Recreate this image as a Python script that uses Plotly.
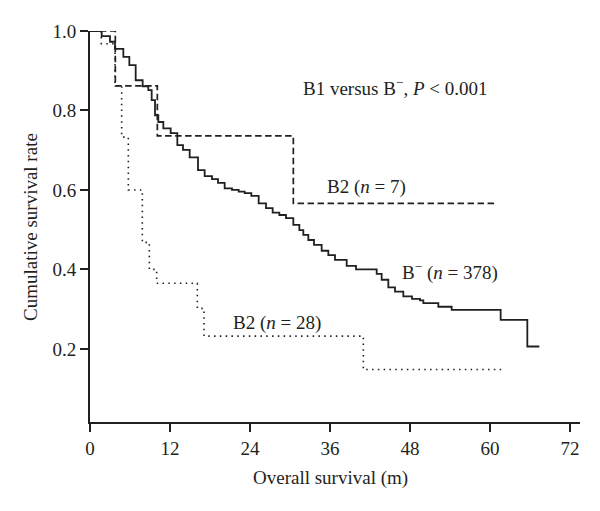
import plotly.graph_objects as go

# B- (n = 378): step times (months) and survival after each step
bneg_t = [0, 1.75, 3.0, 3.75, 5.0, 5.9, 6.85, 7.9, 8.75, 9.25, 9.75, 10.25, 11.0, 12.1,
          13.1, 13.95, 14.95, 16.2, 17.2, 18.3, 19.2, 20.2, 21.3, 22.3, 23.2, 24.2, 25.3,
          26.4, 27.4, 28.4, 29.4, 30.5, 31.4, 32.0, 32.75, 33.6, 34.75, 35.75, 36.75, 38.5,
          39.9, 43.0, 43.75, 44.75, 45.75, 47.0, 48.3, 49.5, 50.0, 52.25, 54.25, 61.6, 65.6, 67.4]
bneg_s = [1.0, 0.987, 0.973, 0.955, 0.935, 0.914, 0.876, 0.861, 0.851, 0.826, 0.788, 0.771,
          0.755, 0.743, 0.713, 0.701, 0.682, 0.650, 0.635, 0.627, 0.618, 0.604, 0.600, 0.596,
          0.592, 0.585, 0.566, 0.554, 0.543, 0.537, 0.529, 0.512, 0.499, 0.487, 0.474, 0.462,
          0.447, 0.436, 0.424, 0.409, 0.400, 0.389, 0.374, 0.355, 0.344, 0.332, 0.326, 0.322,
          0.315, 0.306, 0.298, 0.273, 0.206, 0.206]

# B2 (n = 7), dashed
b2a_t = [0, 3.8, 10.1, 30.5, 61.0]
b2a_s = [1.0, 0.862, 0.736, 0.566, 0.566]

# B2 (n = 28), dotted
b2b_t = [0, 1.7, 3.75, 4.75, 5.75, 7.85, 8.9, 10.0, 16.1, 17.1, 41.0, 62.0]
b2b_s = [1.0, 0.968, 0.862, 0.733, 0.600, 0.468, 0.400, 0.365, 0.302, 0.232, 0.148, 0.148]

x_ticks = [0, 12, 24, 36, 48, 60, 72]
y_ticks = [0.2, 0.4, 0.6, 0.8, 1.0]
y_labels = ["0.2", "0.4", "0.6", "0.8", "1.0"]

INK = "#231f20"
FONT = "Liberation Serif"
W, H = 600, 511
L, R, T, B = 90, 20, 31, 89
PW, PH = W - L - R, H - T - B


def to_plot(px, py):
    """pixel position in the figure -> plot-area paper fraction"""
    return (px - L) / PW, (H - B - py) / PH


fig = go.Figure()
fig.add_trace(go.Scatter(x=b2b_t, y=b2b_s, mode="lines", line_shape="hv",
                         line=dict(color=INK, width=1.6, dash="1.5px,4.3px"), showlegend=False))
fig.add_trace(go.Scatter(x=b2a_t, y=b2a_s, mode="lines", line_shape="hv",
                         line=dict(color=INK, width=1.7, dash="6.5px,3.5px"), showlegend=False))
fig.add_trace(go.Scatter(x=bneg_t, y=bneg_s, mode="lines", line_shape="hv",
                         line=dict(color=INK, width=1.8), showlegend=False))

annots = [
    (395, 87, "B1 versus B<sup>−</sup>, <i>P</i> < 0.001", 0),
    (366, 187, "B2 (<i>n</i> = 7)", 0),
    (450, 271, "B<sup>−</sup> (<i>n</i> = 378)", 0),
    (277, 323, "B2 (<i>n</i> = 28)", 0),
    (330, 478, "Overall survival (m)", 0),
    (30, 227, "Cumulative survival rate", -90),
]
for px, py, txt, ang in annots:
    ax, ay = to_plot(px, py)
    fig.add_annotation(x=ax, y=ay, xref="paper", yref="paper", text=txt, showarrow=False,
                       xanchor="center", yanchor="middle", textangle=ang,
                       font=dict(family=FONT, size=19, color=INK))

fig.update_layout(
    width=W, height=H,
    margin=dict(l=L, r=R, t=T, b=B, autoexpand=False),
    paper_bgcolor="white", plot_bgcolor="white",
    font=dict(family=FONT, size=19, color=INK),
)

fig.update_xaxes(range=[0, 73.5], tickvals=x_ticks, ticks="outside", ticklen=8, tickwidth=1.8,
                 tickcolor=INK, showline=True, linecolor=INK, linewidth=1.8, showgrid=False,
                 zeroline=False, tickfont=dict(family=FONT, size=19, color=INK))
fig.update_yaxes(range=[0.016, 1.0], tickvals=y_ticks, ticktext=y_labels, ticks="outside",
                 ticklen=8, tickwidth=1.8, tickcolor=INK, showline=True, linecolor=INK,
                 linewidth=1.8, showgrid=False, zeroline=False,
                 tickfont=dict(family=FONT, size=19, color=INK))

fig.write_html("out.html", config={"displayModeBar": False},
               post_script="document.body.style.margin='0';")
